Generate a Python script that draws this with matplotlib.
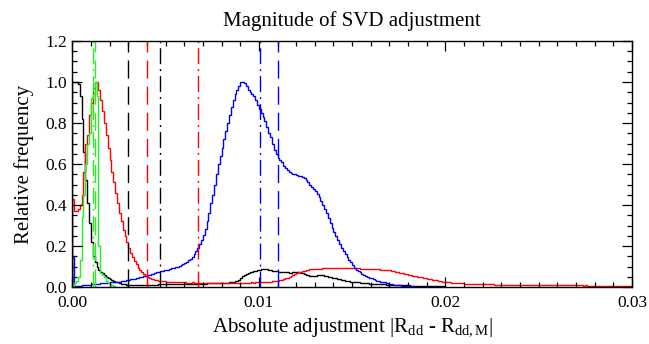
import numpy as np
import matplotlib
matplotlib.use("Agg")
import matplotlib.pyplot as plt
from matplotlib.ticker import MultipleLocator, FormatStrFormatter

plt.rcParams['font.family'] = ['Liberation Serif', 'DejaVu Serif']
plt.rcParams['mathtext.fontset'] = 'custom'
plt.rcParams['mathtext.rm'] = 'Liberation Serif'
plt.rcParams['mathtext.it'] = 'Liberation Serif:italic'

BIN_WIDTH = 0.0001

# Histogram values (relative frequency) per bin of width 0.0001 starting at 0
green_vals = [0.00, 0.02, 0.03, 0.05, 0.13, 0.34, 0.45, 0.60, 0.70, 0.75,
              0.92, 0.94, 1.00, 0.93, 0.20, 0.07, 0.06, 0.05, 0.03, 0.02,
              0.015, 0.01, 0.005, 0.0]

black_vals = [1.00, 1.00, 1.00, 0.99, 0.93, 0.82, 0.66, 0.52, 0.41, 0.31,
              0.22, 0.15, 0.12, 0.10, 0.085, 0.075, 0.066, 0.058, 0.050, 0.044,
              0.038, 0.033, 0.029, 0.025, 0.022, 0.019, 0.017, 0.015, 0.013, 0.012,
              0.011, 0.011, 0.010, 0.010, 0.010, 0.010, 0.010, 0.011, 0.011, 0.011,
              0.011, 0.012, 0.012, 0.012, 0.012, 0.012, 0.013, 0.013, 0.013, 0.013,
              0.013, 0.014, 0.014, 0.014, 0.014, 0.014, 0.015, 0.015, 0.015, 0.015,
              0.015, 0.016, 0.016, 0.016, 0.016, 0.016, 0.017, 0.017, 0.017, 0.017,
              0.017, 0.017, 0.018, 0.018, 0.018, 0.018, 0.018, 0.019, 0.019, 0.019,
              0.019, 0.020, 0.020, 0.021, 0.022, 0.023, 0.025, 0.027, 0.030, 0.036,
              0.045, 0.052, 0.058, 0.064, 0.068, 0.072, 0.075, 0.078, 0.080, 0.082,
              0.084, 0.086, 0.087, 0.087, 0.086, 0.084, 0.082, 0.080, 0.078, 0.076,
              0.075, 0.074, 0.073, 0.072, 0.071, 0.071, 0.070, 0.070, 0.071, 0.072,
              0.072, 0.071, 0.069, 0.066, 0.063, 0.060, 0.058, 0.056, 0.055, 0.055,
              0.056, 0.057, 0.058, 0.058, 0.057, 0.056, 0.054, 0.051, 0.048, 0.046,
              0.044, 0.042, 0.040, 0.037, 0.034, 0.032, 0.030, 0.028, 0.027, 0.026,
              0.025, 0.024, 0.023, 0.022, 0.021, 0.020, 0.019, 0.018, 0.018, 0.017,
              0.016, 0.016, 0.015, 0.015, 0.014, 0.014, 0.013, 0.013, 0.012, 0.012,
              0.011, 0.011, 0.010, 0.010, 0.010, 0.009, 0.009, 0.009, 0.008, 0.008,
              0.008, 0.007, 0.007, 0.007, 0.007, 0.006, 0.006, 0.006, 0.006, 0.005,
              0.005, 0.005, 0.005, 0.005, 0.004, 0.004, 0.004, 0.004, 0.004, 0.004]

red_vals = [0.43, 0.37, 0.37, 0.38, 0.40, 0.45, 0.56, 0.70, 0.74, 0.84,
            0.90, 0.97, 1.00, 1.00, 0.96, 0.91, 0.86, 0.80, 0.74, 0.68,
            0.62, 0.56, 0.51, 0.46, 0.41, 0.36, 0.32, 0.28, 0.25, 0.22,
            0.19, 0.165, 0.145, 0.125, 0.11, 0.095, 0.083, 0.072, 0.063, 0.055,
            0.049, 0.044, 0.040, 0.037, 0.034, 0.032, 0.030, 0.029, 0.028, 0.027,
            0.026, 0.025, 0.025, 0.024, 0.024, 0.023, 0.023, 0.023, 0.022, 0.022,
            0.022, 0.021, 0.021, 0.021, 0.022, 0.021, 0.020, 0.020, 0.021, 0.021,
            0.020, 0.020, 0.021, 0.020, 0.020, 0.019, 0.020, 0.020, 0.019, 0.020,
            0.020, 0.019, 0.019, 0.020, 0.020, 0.019, 0.020, 0.020, 0.021, 0.020,
            0.020, 0.021, 0.021, 0.020, 0.021, 0.021, 0.022, 0.021, 0.022, 0.022,
            0.023, 0.023, 0.024, 0.024, 0.025, 0.026, 0.026, 0.027, 0.028, 0.029,
            0.030, 0.032, 0.035, 0.038, 0.042, 0.046, 0.050, 0.055, 0.060, 0.064,
            0.068, 0.072, 0.075, 0.078, 0.080, 0.083, 0.085, 0.086, 0.087, 0.088,
            0.088, 0.089, 0.089, 0.090, 0.091, 0.091, 0.092, 0.092, 0.093, 0.093,
            0.094, 0.094, 0.095, 0.095, 0.095, 0.094, 0.094, 0.094, 0.093, 0.093,
            0.092, 0.092, 0.091, 0.091, 0.090, 0.090, 0.089, 0.089, 0.088, 0.088,
            0.087, 0.087, 0.086, 0.086, 0.086, 0.085, 0.085, 0.084, 0.083, 0.082,
            0.081, 0.079, 0.076, 0.074, 0.072, 0.070, 0.068, 0.066, 0.064, 0.062,
            0.060, 0.058, 0.056, 0.054, 0.052, 0.050, 0.048, 0.047, 0.045, 0.043,
            0.041, 0.039, 0.037, 0.035, 0.034, 0.032, 0.030, 0.028, 0.026, 0.025,
            0.024, 0.023, 0.022, 0.021, 0.020, 0.020, 0.019, 0.019, 0.018, 0.018,
            0.017, 0.017, 0.016, 0.016, 0.016, 0.015, 0.015, 0.015, 0.014, 0.014,
            0.014, 0.014, 0.013, 0.013, 0.013, 0.013, 0.012, 0.012, 0.012, 0.012,
            0.012, 0.012, 0.012, 0.011, 0.012, 0.011, 0.011, 0.011, 0.011, 0.011,
            0.011, 0.011, 0.010, 0.011, 0.010, 0.010, 0.010, 0.010, 0.010, 0.010,
            0.010, 0.009, 0.010, 0.009, 0.009, 0.009, 0.009, 0.009, 0.009, 0.009,
            0.009, 0.009, 0.008, 0.009, 0.008, 0.008, 0.008, 0.008, 0.008, 0.008,
            0.008, 0.008, 0.008, 0.008, 0.007, 0.008, 0.007, 0.007, 0.007, 0.007,
            0.007, 0.007, 0.007, 0.007, 0.007, 0.007, 0.007, 0.007, 0.007, 0.007,
            0.007, 0.007, 0.006, 0.007, 0.006, 0.007, 0.006, 0.006, 0.007, 0.006]

blue_vals = [0.15, 0.004, 0.005, 0.006, 0.007, 0.008, 0.009, 0.010, 0.011, 0.012,
             0.013, 0.014, 0.015, 0.016, 0.017, 0.018, 0.019, 0.020, 0.020, 0.021,
             0.022, 0.022, 0.023, 0.024, 0.025, 0.026, 0.027, 0.029, 0.031, 0.033,
             0.035, 0.037, 0.039, 0.041, 0.043, 0.045, 0.048, 0.051, 0.054, 0.056,
             0.058, 0.060, 0.062, 0.065, 0.068, 0.071, 0.074, 0.077, 0.079, 0.081,
             0.083, 0.085, 0.088, 0.091, 0.094, 0.097, 0.100, 0.104, 0.108, 0.112,
             0.117, 0.123, 0.130, 0.138, 0.148, 0.160, 0.175, 0.192, 0.210, 0.230,
             0.255, 0.285, 0.32, 0.36, 0.41, 0.45, 0.50, 0.55, 0.60, 0.64,
             0.68, 0.72, 0.76, 0.80, 0.84, 0.88, 0.91, 0.94, 0.96, 0.98,
             1.00, 1.00, 0.995, 0.98, 0.96, 0.95, 0.94, 0.93, 0.91, 0.89,
             0.87, 0.85, 0.83, 0.81, 0.78, 0.75, 0.73, 0.70, 0.67, 0.65,
             0.63, 0.62, 0.61, 0.59, 0.58, 0.57, 0.56, 0.555, 0.55, 0.55,
             0.545, 0.54, 0.54, 0.535, 0.53, 0.52, 0.51, 0.50, 0.49, 0.48,
             0.47, 0.455, 0.44, 0.42, 0.40, 0.38, 0.36, 0.335, 0.31, 0.29,
             0.27, 0.25, 0.23, 0.21, 0.19, 0.175, 0.16, 0.145, 0.13, 0.12,
             0.105, 0.095, 0.085, 0.078, 0.071, 0.065, 0.060, 0.055, 0.050, 0.046,
             0.042, 0.038, 0.034, 0.031, 0.028, 0.026, 0.024, 0.022, 0.019, 0.017,
             0.015, 0.013, 0.012, 0.010, 0.009, 0.008, 0.007, 0.006, 0.005, 0.004,
             0.004, 0.003, 0.003, 0.002, 0.002, 0.002, 0.001, 0.001, 0.001, 0.001,
             0.0, 0.0, 0.0, 0.0, 0.0, 0.0, 0.0, 0.0, 0.0, 0.0]

# Vertical reference lines (x position, colour, style)
vline_x = [0.00113, 0.00120, 0.0030, 0.0047, 0.00402, 0.00675, 0.01006, 0.0110]
vline_colors = ['#22ee22', '#22ee22', 'black', 'black', 'red', 'red', 'blue', 'blue']
vline_styles = ['dashdot', 'dashed', 'dashed', 'dashdot', 'dashed', 'dashdot', 'dashdot', 'dashed']

title = 'Magnitude of SVD adjustment'
xlabel = r'Absolute adjustment |R$_{\mathrm{dd}}$ - R$_{\mathrm{dd,M}}$|'
ylabel = 'Relative frequency'

fig = plt.figure(figsize=(6.49, 3.44), dpi=100)
ax = fig.add_axes([72.3/649, 1 - 287/344, (632 - 72.3)/649, (287 - 41)/344])

def edges(n):
    return np.arange(n + 1) * BIN_WIDTH

ax.stairs(black_vals, edges(len(black_vals)), color='black', lw=1.0, baseline=0)
ax.stairs(red_vals, edges(len(red_vals)), color='red', lw=1.0, baseline=0)
ax.stairs(blue_vals, edges(len(blue_vals)), color='blue', lw=1.0, baseline=0)
ax.stairs(green_vals, edges(len(green_vals)), color='#22ee22', lw=1.0, baseline=0)

dash_styles = {'dashed': (0, (13, 5.8)), 'dashdot': (0, (11.5, 3.6, 1.4, 3.6))}
for xv, c, s in zip(vline_x, vline_colors, vline_styles):
    ax.axvline(xv, color=c, lw=1.0, linestyle=dash_styles[s])

ax.set_xlim(0, 0.03)
ax.set_ylim(0, 1.2)
ax.xaxis.set_major_locator(MultipleLocator(0.01))
ax.xaxis.set_minor_locator(MultipleLocator(0.001))
ax.yaxis.set_major_locator(MultipleLocator(0.2))
ax.yaxis.set_minor_locator(MultipleLocator(0.05))
ax.xaxis.set_major_formatter(FormatStrFormatter('%.2f'))
ax.yaxis.set_major_formatter(FormatStrFormatter('%.1f'))
ax.tick_params(which='both', direction='in', top=True, right=True, labelsize=12.5, width=0.9)
ax.tick_params(which='major', length=7.5)
ax.tick_params(which='minor', length=3.8)
ax.tick_params(axis='x', pad=6)
ax.tick_params(axis='y', pad=4)
for sp in ax.spines.values():
    sp.set_linewidth(1.0)

ax.set_title(title, fontsize=15, pad=11)
ax.set_xlabel(xlabel, fontsize=15, labelpad=4)
ax.set_ylabel(ylabel, fontsize=15, labelpad=8)

fig.savefig('out.png', dpi=100)
